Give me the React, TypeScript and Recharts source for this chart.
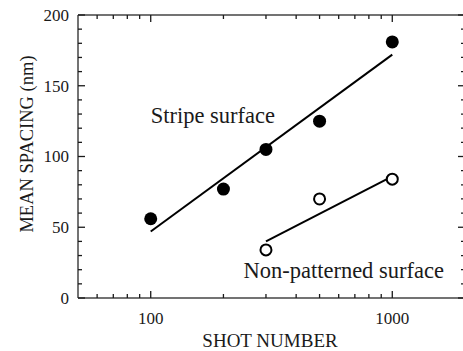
import { ScatterChart, Scatter, XAxis, YAxis } from "recharts";

// stripe surface measurements (filled circles)
const stripeShots = [100, 200, 300, 500, 1000];
const stripeSpacing = [56, 77, 105, 125, 181];

// non-patterned surface measurements (open circles)
const plainShots = [300, 500, 1000];
const plainSpacing = [34, 70, 84];

// fitted lines
const stripeFitShots = [100, 1000];
const stripeFitSpacing = [47, 172];
const plainFitShots = [300, 1000];
const plainFitSpacing = [40, 86];

const xMajorTicks = [100, 1000];
const xMinorTicks = [60, 70, 80, 90, 200, 300, 400, 500, 600, 700, 800, 900];
const yMajorTicks = [0, 50, 100, 150, 200];
const yMinorTicks = [10, 20, 30, 40, 60, 70, 80, 90, 110, 120, 130, 140, 160, 170, 180, 190];

const xDomain = [50, 2000];
const yDomain = [0, 200];

const stripeNote = { x: 100, y: 124, text: "Stripe surface" };
const plainNote = { x: 242, y: 14, text: "Non-patterned surface" };

const FONT = "Liberation Serif";
const INK = "#1a1a1a";

const toPoints = (xs: number[], ys: number[]) => xs.map((x, i) => ({ x, y: ys[i] }));

const stripeData = toPoints(stripeShots, stripeSpacing);
const plainData = toPoints(plainShots, plainSpacing);
const stripeFit = toPoints(stripeFitShots, stripeFitSpacing);
const plainFit = toPoints(plainFitShots, plainFitSpacing);

// tick marks are drawn as scatter points sitting on the frame, so they go through the axis scales
const onX = (vals: number[], y: number, major: boolean) => vals.map((x) => ({ x, y, major }));
const onY = (vals: number[], x: number, major: boolean) => vals.map((y) => ({ x, y, major }));
const bottomMarks = [...onX(xMinorTicks, yDomain[0], false), ...onX(xMajorTicks, yDomain[0], true)];
const topMarks = [...onX(xMinorTicks, yDomain[1], false), ...onX(xMajorTicks, yDomain[1], true)];
const leftMarks = [...onY(yMinorTicks, xDomain[0], false), ...onY(yMajorTicks, xDomain[0], true)];
const rightMarks = [...onY(yMinorTicks, xDomain[1], false), ...onY(yMajorTicks, xDomain[1], true)];
const topEdge = [{ x: xDomain[0], y: yDomain[1] }, { x: xDomain[1], y: yDomain[1] }];

type Side = "bottom" | "top" | "left" | "right";

const markShape = (side: Side) => (p: any) => {
  const major = p.payload?.major ?? p.major;
  const len = major ? 7 : 4;
  const { cx, cy } = p;
  let x2 = cx;
  let y2 = cy;
  if (side === "bottom") y2 = cy - len;
  if (side === "top") y2 = cy + len;
  if (side === "left") x2 = cx + len;
  if (side === "right") x2 = cx - len;
  return <line x1={cx} y1={cy} x2={x2} y2={y2} stroke={INK} strokeWidth={1.3} />;
};

const bottomMark = markShape("bottom");
const topMark = markShape("top");
const leftMark = markShape("left");
const rightMark = markShape("right");

const xLabelTick = (props: any) => {
  const { x, y, payload } = props;
  if (!xMajorTicks.includes(payload.value)) return <g />;
  return (
    <text x={x} y={y + 26} textAnchor="middle" fill={INK} fontFamily={FONT} fontSize={17}>
      {payload.value}
    </text>
  );
};

const yLabelTick = (props: any) => {
  const { x, y, payload } = props;
  if (!yMajorTicks.includes(payload.value)) return <g />;
  return (
    <text x={x - 9} y={y} dy="0.35em" textAnchor="end" fill={INK} fontFamily={FONT} fontSize={17}>
      {payload.value}
    </text>
  );
};

const xTicks = [...xMinorTicks, ...xMajorTicks].sort((a, b) => a - b);
const yTicks = [...yMinorTicks, ...yMajorTicks].sort((a, b) => a - b);

const filledDot = (p: any) => <circle cx={p.cx} cy={p.cy} r={6.5} fill="#000" />;
const openDot = (p: any) => <circle cx={p.cx} cy={p.cy} r={5.5} fill="#fff" stroke="#000" strokeWidth={2} />;
const noDot = () => <g />;

const stripeLabel = (p: any) => (
  <text x={p.cx} y={p.cy} fill={INK} fontFamily={FONT} fontSize={22.5}>
    {stripeNote.text}
  </text>
);
const plainLabel = (p: any) => (
  <text x={p.cx} y={p.cy} fill={INK} fontFamily={FONT} fontSize={22.5}>
    {plainNote.text}
  </text>
);

const frameLine = { stroke: "#444", strokeWidth: 1.5 };
const fitLine = { stroke: "#000", strokeWidth: 2 };

export default function App() {
  return (
    <div style={{ position: "absolute", left: 0, top: 0, width: 463, height: 351, overflow: "hidden", background: "#fff" }}>
      <ScatterChart width={475} height={351} margin={{ top: 15, right: 10, bottom: 0, left: 0 }}>
        <XAxis
          dataKey="x"
          type="number"
          scale="log"
          domain={xDomain}
          ticks={xTicks}
          interval={0}
          tickSize={0}
          tickMargin={0}
          tickLine={false}
          axisLine={frameLine}
          tick={xLabelTick}
          height={53}
        />
        <YAxis
          dataKey="y"
          type="number"
          domain={yDomain}
          ticks={yTicks}
          interval={0}
          tickSize={0}
          tickMargin={0}
          tickLine={false}
          axisLine={frameLine}
          tick={yLabelTick}
          width={78}
        />
        <Scatter data={topEdge} line={frameLine} shape={noDot} isAnimationActive={false} />
        <Scatter data={bottomMarks} shape={bottomMark} isAnimationActive={false} />
        <Scatter data={topMarks} shape={topMark} isAnimationActive={false} />
        <Scatter data={leftMarks} shape={leftMark} isAnimationActive={false} />
        <Scatter data={rightMarks} shape={rightMark} isAnimationActive={false} />
        <Scatter data={stripeFit} line={fitLine} shape={noDot} isAnimationActive={false} />
        <Scatter data={plainFit} line={fitLine} shape={noDot} isAnimationActive={false} />
        <Scatter data={stripeData} shape={filledDot} isAnimationActive={false} />
        <Scatter data={plainData} shape={openDot} isAnimationActive={false} />
        <Scatter data={[stripeNote]} shape={stripeLabel} isAnimationActive={false} />
        <Scatter data={[plainNote]} shape={plainLabel} isAnimationActive={false} />
      </ScatterChart>
      <svg width={463} height={351} style={{ position: "absolute", left: 0, top: 0, pointerEvents: "none" }}>
        <text x={270} y={347} textAnchor="middle" fill={INK} fontFamily={FONT} fontSize={19}>
          SHOT NUMBER
        </text>
        <text x={33} y={144} transform="rotate(-90, 33, 144)" textAnchor="middle" fill={INK} fontFamily={FONT} fontSize={18.5}>
          MEAN SPACING (nm)
        </text>
      </svg>
    </div>
  );
}
